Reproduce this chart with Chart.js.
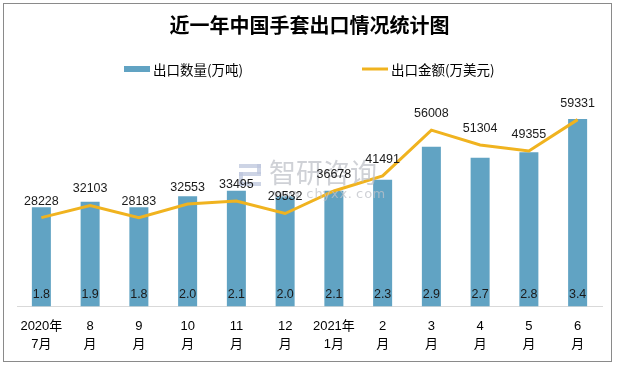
<!DOCTYPE html>
<html>
<head>
<meta charset="utf-8">
<script src="https://cdn.jsdelivr.net/npm/chart.js@4.4.1/dist/chart.umd.min.js"></script>
<style>
  html, body { margin: 0; padding: 0; background: #ffffff; }
  #wrap { width: 617px; height: 366px; position: relative; }
</style>
</head>
<body>
<div id="wrap"><canvas id="c" width="617" height="366"></canvas></div>
<script>
const titleText = '近一年中国手套出口情况统计图';
const categories = [
  ['2020年', '7月'], ['8', '月'], ['9', '月'], ['10', '月'], ['11', '月'], ['12', '月'],
  ['2021年', '1月'], ['2', '月'], ['3', '月'], ['4', '月'], ['5', '月'], ['6', '月']
];
const quantityLabel = '出口数量(万吨)';
const amountLabel = '出口金额(万美元)';
const exportQuantity = [1.8, 1.9, 1.8, 2.0, 2.1, 2.0, 2.1, 2.3, 2.9, 2.7, 2.8, 3.4];
const exportAmount = [28228, 32103, 28183, 32553, 33495, 29532, 36678, 41491, 56008, 51304, 49355, 59331];

const BAR_COLOR = '#61a3c3';
const LINE_COLOR = '#f0b31f';
const LABEL_FONT = '12.5px "Liberation Sans", "Noto Sans CJK SC", sans-serif';

const backgroundAndFrame = {
  id: 'backgroundAndFrame',
  beforeDraw(chart) {
    const ctx = chart.ctx;
    ctx.save();
    ctx.fillStyle = '#ffffff';
    ctx.fillRect(0, 0, chart.width, chart.height);
    ctx.restore();
  },
  afterDraw(chart) {
    const ctx = chart.ctx;
    ctx.save();
    ctx.strokeStyle = '#8a8a8a';
    ctx.lineWidth = 1;
    ctx.strokeRect(3.5, 3.5, 608, 358);
    ctx.restore();
  }
};

const customLegend = {
  id: 'customLegend',
  afterDraw(chart) {
    const ctx = chart.ctx;
    ctx.save();
    ctx.font = '13.5px "Noto Sans CJK SC", sans-serif';
    ctx.textBaseline = 'middle';
    const y = 69;
    ctx.fillStyle = BAR_COLOR;
    ctx.fillRect(124, 66, 26, 6);
    ctx.fillStyle = '#000000';
    ctx.fillText(chart.data.datasets[1].label, 153, y + 1);
    ctx.strokeStyle = LINE_COLOR;
    ctx.lineWidth = 3;
    ctx.beginPath();
    ctx.moveTo(362, y);
    ctx.lineTo(388, y);
    ctx.stroke();
    ctx.fillText(chart.data.datasets[0].label, 391, y + 1);
    ctx.restore();
  }
};

const valueLabels = {
  id: 'valueLabels',
  afterDatasetsDraw(chart) {
    const ctx = chart.ctx;
    ctx.save();
    // watermark
    ctx.globalAlpha = 0.75;
    ctx.fillStyle = '#bfc2c8';
    ctx.font = '27px "Noto Sans CJK SC", sans-serif';
    ctx.textBaseline = 'middle';
    ctx.textAlign = 'left';
    ctx.fillText('智研咨询', 269, 173);
    ctx.font = '13px "DejaVu Sans", sans-serif';
    const wm = 'www.chyxx.com';
    for (let i = 0; i < wm.length; i++) {
      ctx.fillText(wm[i], 273 + i * 8.3, 195);
    }
    ctx.fillStyle = '#bcc5dc';
    ctx.fillRect(239, 164, 22, 4);
    ctx.fillRect(257, 164, 4, 10);
    ctx.fillRect(239, 172, 22, 4);
    ctx.fillRect(239, 172, 4, 14);
    ctx.fillRect(239, 182, 22, 4);
    ctx.globalAlpha = 1;

    ctx.font = LABEL_FONT;
    ctx.fillStyle = '#1a1a1a';
    ctx.textAlign = 'center';
    ctx.textBaseline = 'middle';
    const lineMeta = chart.getDatasetMeta(0);
    lineMeta.data.forEach((pt, i) => {
      ctx.fillText(String(chart.data.datasets[0].data[i]), pt.x, pt.y - 16.5);
    });
    const barMeta = chart.getDatasetMeta(1);
    barMeta.data.forEach((bar, i) => {
      ctx.fillText(chart.data.datasets[1].data[i].toFixed(1), bar.x, bar.base - 12);
    });
    ctx.restore();
  }
};

new Chart(document.getElementById('c'), {
  data: {
    labels: categories,
    datasets: [
      {
        type: 'line',
        label: amountLabel,
        data: exportAmount,
        yAxisID: 'y1',
        borderColor: LINE_COLOR,
        backgroundColor: LINE_COLOR,
        borderWidth: 3,
        tension: 0,
        pointRadius: 0,
        pointHoverRadius: 0,
        order: 0
      },
      {
        type: 'bar',
        label: quantityLabel,
        data: exportQuantity,
        yAxisID: 'y',
        backgroundColor: BAR_COLOR,
        borderWidth: 0,
        categoryPercentage: 1,
        barPercentage: 0.39,
        order: 1
      }
    ]
  },
  options: {
    responsive: false,
    animation: false,
    events: [],
    layout: { padding: { left: 17, right: 15, top: 0, bottom: 1 } },
    plugins: {
      legend: { display: false },
      tooltip: { enabled: false },
      title: {
        display: true,
        text: titleText,
        color: '#000000',
        font: { family: '"Noto Sans CJK SC", sans-serif', size: 20, weight: 'bold', lineHeight: 1.2 },
        padding: { top: 13, bottom: 49 }
      }
    },
    scales: {
      x: {
        offset: true,
        grid: { display: false, drawTicks: false },
        border: { display: true, color: '#d9d9d9', width: 1 },
        ticks: {
          autoSkip: false,
          maxRotation: 0,
          minRotation: 0,
          padding: 11,
          color: '#000000',
          font: { family: '"Liberation Sans", "Noto Sans CJK SC", sans-serif', size: 13, lineHeight: 1.4 }
        }
      },
      y: { display: false, min: 0, max: 4 },
      y1: { display: false, min: 0, max: 70000, position: 'right' }
    }
  },
  plugins: [backgroundAndFrame, customLegend, valueLabels]
});
</script>
</body>
</html>
